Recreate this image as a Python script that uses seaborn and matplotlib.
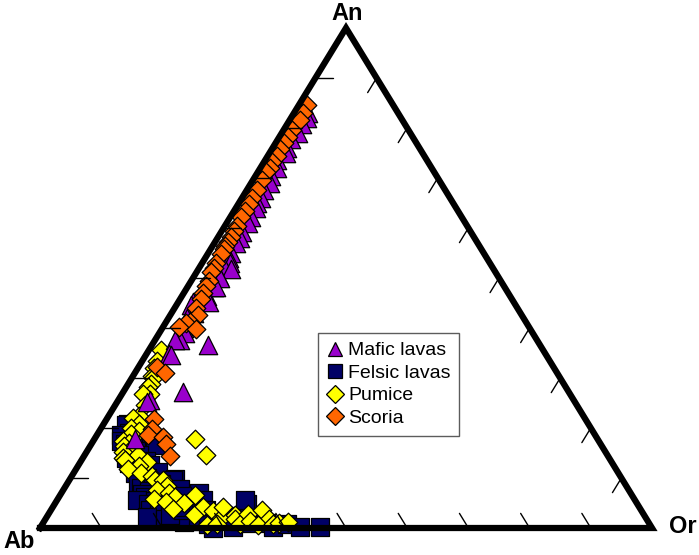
import numpy as np
import pandas as pd
import matplotlib
matplotlib.use("Agg")
import matplotlib.pyplot as plt
import seaborn as sns
from matplotlib.lines import Line2D

# ---- data: feldspar compositions (mol %), Ab = 100 - An - Or ----
scoria_an = [84.6, 83.0, 81.6, 79.6, 78.3, 77.0, 75.9, 74.5, 73.3, 72.0, 71.3, 69.6, 67.6, 66.0,
             64.9, 63.5, 62.3, 60.5, 59.5, 58.3, 57.3, 56.5, 55.8, 54.9, 53.0, 52.0, 51.3, 49.5,
             48.5, 47.0, 45.9, 44.0, 42.6, 41.3, 41.0, 40.3, 39.9, 32.3, 31.1, 21.9, 19.9, 18.6,
             18.3, 16.9, 14.4]
scoria_or = [1.3, 1.4, 1.7, 1.3, 1.3, 1.4, 1.3, 1.5, 1.3, 1.5, 1.3, 1.5, 1.6, 1.7,
             1.7, 1.7, 1.7, 1.9, 2.0, 2.0, 2.1, 2.0, 2.1, 2.1, 2.2, 2.5, 2.3, 2.8,
             2.8, 3.1, 3.4, 3.5, 4.5, 3.9, 3.3, 2.6, 5.5, 2.9, 4.8, 7.6, 8.3, 8.4,
             10.9, 12.2, 14.1]

mafic_an = [83.0, 82.0, 80.9, 79.0, 77.9, 76.0, 75.0, 73.6, 72.0, 70.5, 69.0, 67.6, 66.0, 65.0,
            64.0, 62.3, 61.0, 59.3, 58.0, 57.0, 55.0, 54.0, 53.0, 52.3, 51.9, 50.5, 50.0, 48.3,
            48.3, 46.5, 45.3, 45.3, 44.6, 43.0, 42.0, 40.0, 39.0, 37.6, 37.6, 36.6, 34.9, 34.6,
            27.3, 25.6, 25.3, 17.9]
mafic_or = [2.3, 2.6, 2.4, 2.7, 2.0, 2.3, 2.7, 2.0, 2.8, 2.5, 3.0, 2.8, 3.1, 3.0,
            3.3, 3.3, 3.5, 3.4, 3.7, 3.5, 3.7, 3.9, 4.6, 3.9, 5.3, 4.0, 4.4, 4.3,
            4.6, 4.1, 5.0, 2.3, 2.4, 3.6, 3.0, 3.5, 4.2, 4.0, 3.2, 9.2, 3.7, 4.1,
            9.7, 5.1, 4.9, 6.5]

felsic_an = [20.9, 20.6, 19.0, 18.6, 18.0, 17.5, 16.9, 16.6, 16.6, 15.5, 15.0, 14.6, 14.0, 13.5,
             13.0, 12.6, 12.6, 12.0, 11.3, 11.0, 10.3, 10.0, 9.9, 9.6, 9.0, 8.9, 8.0, 8.0, 7.9,
             7.5, 7.0, 7.0, 6.9, 6.5, 6.3, 6.0, 5.6, 5.5, 5.0, 4.9, 4.5, 4.0, 3.6, 3.0, 3.0,
             2.3, 2.0, 2.0, 1.9, 1.2, 2.6, 1.5, 3.6, 4.3, 5.6, 3.6, 0.8, 0.0, 4.9, 2.5, 5.6,
             0.3, 1.5, 1.0, 1.0, 0.3, 0.8, 0.3, 0.3]
felsic_or = [3.9, 3.8, 5.0, 4.0, 6.5, 4.5, 5.4, 6.9, 10.5, 8.0, 6.5, 8.9, 7.0, 10.5,
             8.0, 9.2, 11.7, 9.5, 13.7, 10.0, 11.7, 12.5, 17.1, 17.0, 11.5, 15.4, 12.5, 14.5, 18.9,
             14.0, 16.0, 22.5, 13.2, 20.0, 14.0, 17.5, 13.0, 16.0, 18.5, 15.2, 17.0, 22.5, 16.2, 18.0, 24.0,
             16.3, 21.0, 26.0, 19.5, 23.0, 19.9, 25.0, 21.6, 20.7, 23.9, 25.4, 27.0, 28.3, 31.3, 30.0, 30.7,
             31.4, 32.0, 34.0, 36.5, 37.9, 40.0, 42.3, 45.6]

pumice_an = [35.6, 33.5, 32.0, 30.5, 30.0, 28.9, 28.3, 26.9, 26.9, 24.6, 22.5, 22.0, 20.9, 20.0,
             19.5, 18.9, 17.5, 17.0, 16.5, 16.0, 15.3, 14.6, 14.0, 13.6, 13.3, 12.5, 11.9, 11.0,
             10.5, 9.6, 9.7, 8.5, 7.6, 7.0, 5.9, 6.3, 5.3, 5.0, 3.9, 6.6, 4.3, 3.5, 2.6, 2.0,
             0.6, 0.9, 4.3, 2.6, 1.8, 0.9, 2.9, 1.5, 3.6, 1.8, 0.6, 0.9, 1.0, 1.3, 17.9, 14.6]
pumice_or = [2.0, 2.3, 2.6, 3.0, 3.5, 3.7, 3.5, 4.5, 3.4, 4.8, 5.0, 4.2, 5.7, 4.8,
             6.5, 5.5, 4.8, 6.0, 5.5, 7.0, 5.9, 8.7, 6.5, 7.1, 10.8, 10.0, 8.4, 11.0,
             13.0, 14.0, 15.2, 16.5, 15.3, 17.5, 15.6, 18.9, 18.0, 21.0, 19.8, 22.0, 24.5, 26.5, 23.9, 28.5,
             27.0, 28.4, 27.8, 30.6, 31.0, 32.2, 32.6, 33.5, 34.4, 36.5, 35.4, 37.6, 38.5, 39.9, 16.3, 19.8]

group_names = ["Mafic lavas", "Felsic lavas", "Pumice", "Scoria"]
vertex_labels = ["Ab", "Or", "An"]
tick_values = [10, 20, 30, 40, 50, 60, 70, 80, 90]

# ---- geometry of the (non-equilateral) triangle ----
H = 500 / 612          # height of An apex relative to Ab-Or side
AB = np.array([0.0, 0.0])
OR = np.array([1.0, 0.0])
AN = np.array([0.5, H])


def tern(an, orr):
    an = np.asarray(an, float) / 100
    orr = np.asarray(orr, float) / 100
    return orr * OR[0] + an * AN[0], orr * OR[1] + an * AN[1]


frames = []
for name, an, orr in [("Felsic lavas", felsic_an, felsic_or),
                      ("Pumice", pumice_an, pumice_or),
                      ("Mafic lavas", mafic_an, mafic_or),
                      ("Scoria", scoria_an, scoria_or)]:
    x, y = tern(an, orr)
    frames.append(pd.DataFrame({"x": x, "y": y, "group": name}))
df = pd.concat(frames, ignore_index=True)

colors = {"Mafic lavas": "#9900CC", "Felsic lavas": "#000066",
          "Pumice": "#FFFF00", "Scoria": "#FF6600"}
markers = {"Mafic lavas": "^", "Felsic lavas": "s", "Pumice": "D", "Scoria": "D"}
sizes = {"Mafic lavas": 175, "Felsic lavas": 165, "Pumice": 90, "Scoria": 90}

sns.set_style("white")
plt.rcParams["font.family"] = ["Liberation Sans", "DejaVu Sans"]
plt.rcParams["text.color"] = "black"

fig = plt.figure(figsize=(6.99, 5.55), dpi=100)
ax = fig.add_axes([0, 0, 1, 1])
ax.set_xlim(-40 / 612, 659 / 612)
ax.set_ylim(-27 / 612, 528 / 612)
ax.set_axis_off()

for name in ["Felsic lavas", "Pumice", "Mafic lavas", "Scoria"]:
    sub = df[df["group"] == name]
    sns.scatterplot(data=sub, x="x", y="y", ax=ax, color=colors[name], marker=markers[name],
                    s=sizes[name], edgecolor="black", linewidth=0.9, zorder=3, legend=False)

# triangle outline
tri = np.array([AB, OR, AN, AB])
ax.plot(tri[:, 0], tri[:, 1], color="black", lw=4.5, solid_joinstyle="miter",
        solid_capstyle="projecting", zorder=5)

# ticks
L = 0.028
d_bottom = (AN - OR) / np.linalg.norm(AN - OR)
d_right = (AB - AN) / np.linalg.norm(AB - AN)
d_left = np.array([1.0, 0.0])
for t in tick_values:
    f = t / 100
    p = AB + f * (OR - AB)
    ax.plot([p[0], p[0] + L * d_bottom[0]], [p[1], p[1] + L * d_bottom[1]], color="black", lw=1.0, zorder=4)
    p = OR + f * (AN - OR)
    ax.plot([p[0], p[0] + L * d_right[0]], [p[1], p[1] + L * d_right[1]], color="black", lw=1.0, zorder=4)
    p = AN + f * (AB - AN)
    ax.plot([p[0], p[0] + L * d_left[0]], [p[1], p[1] + L * d_left[1]], color="black", lw=1.0, zorder=4)

# vertex labels
lab_kw = dict(fontsize=17, fontweight="bold", ha="center", va="center", color="black")
ax.text(-0.034, -0.022, vertex_labels[0], **lab_kw)
ax.text(1.051, 0.002, vertex_labels[1], **lab_kw)
ax.text(0.502, 0.840, vertex_labels[2], **lab_kw)

# legend
handles = [Line2D([], [], ls="none", marker=markers[n],
                  markersize=np.sqrt(sizes[n]) * (0.8 if markers[n] != "D" else 1.0),
                  markerfacecolor=colors[n], markeredgecolor="black", markeredgewidth=0.9)
           for n in group_names]
leg = ax.legend(handles, group_names, loc="upper left", bbox_to_anchor=(318 / 699, (555 - 333) / 555),
                bbox_transform=fig.transFigure, borderaxespad=0, frameon=True, fancybox=False,
                fontsize=14, handlelength=0.8, handletextpad=0.3, labelspacing=0.25,
                borderpad=0.45, edgecolor="#333333")
leg.get_frame().set_linewidth(1.0)
leg.set_zorder(6)
for txt in leg.get_texts():
    txt.set_color("black")

fig.savefig("out.png", dpi=100, facecolor="white")
